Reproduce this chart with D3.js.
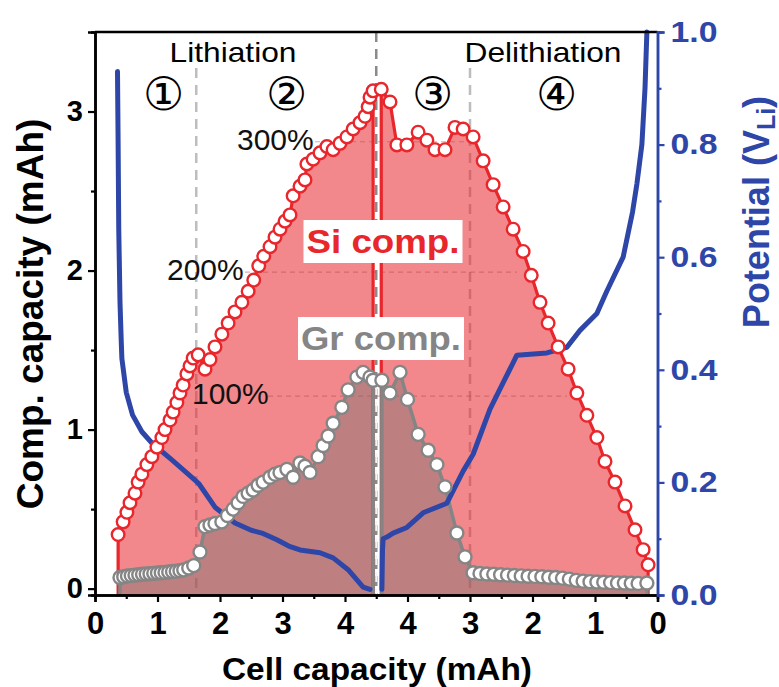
<!DOCTYPE html>
<html>
<head>
<meta charset="utf-8">
<script src="https://cdn.jsdelivr.net/npm/d3@7"></script>
<style>
body { margin: 0; background: #fff; }
svg text { font-family: "Liberation Sans", Arial, Helvetica, sans-serif; }
</style>
</head>
<body>
<script>
'use strict';

// 锂化段（容量 0 -> 4.5）
const liSiCap = [0.37,0.45,0.51,0.56,0.64,0.69,0.75,0.83,0.91,0.99,1.07,1.12,1.20,1.25,1.31,1.36,1.41,1.47,1.52,1.57,1.65,1.76,1.84,1.92,2.03,2.13,2.24,2.35,2.45,2.54,2.62,2.70,2.80,2.88,2.96,3.04,3.12,3.17,3.28,3.36,3.39,3.49,3.60,3.71,3.81,3.92,4.03,4.13,4.24,4.32,4.37,4.40,4.45];
const liSiVal = [0.34,0.42,0.48,0.54,0.60,0.67,0.72,0.78,0.83,0.89,0.95,1.00,1.06,1.11,1.17,1.23,1.28,1.35,1.40,1.45,1.47,1.38,1.44,1.52,1.60,1.67,1.74,1.80,1.87,1.94,2.03,2.09,2.15,2.21,2.26,2.31,2.35,2.47,2.53,2.57,2.67,2.70,2.74,2.78,2.76,2.80,2.84,2.89,2.93,2.97,3.03,3.09,3.13];

const liGrCap = [0.40,0.46,0.52,0.58,0.64,0.70,0.76,0.82,0.88,0.94,1.00,1.06,1.12,1.18,1.24,1.30,1.36,1.42,1.50,1.58,1.68,1.76,1.84,1.92,2.03,2.12,2.21,2.29,2.37,2.45,2.53,2.61,2.69,2.80,2.88,2.96,3.07,3.17,3.28,3.36,3.44,3.57,3.65,3.73,3.81,3.95,4.05,4.19,4.29,4.40,4.45];
const liGrVal = [0.07,0.075,0.08,0.082,0.085,0.087,0.09,0.092,0.094,0.096,0.098,0.10,0.102,0.105,0.108,0.11,0.113,0.118,0.13,0.145,0.23,0.39,0.40,0.41,0.42,0.46,0.50,0.54,0.58,0.60,0.62,0.65,0.67,0.70,0.72,0.73,0.75,0.70,0.79,0.77,0.73,0.83,0.90,0.96,1.04,1.14,1.25,1.33,1.36,1.33,1.31];

const liPotCap = [0.36,0.37,0.38,0.40,0.42,0.43,0.50,0.60,0.75,0.91,1.23,1.60,1.66,1.92,2.24,2.50,2.67,2.91,3.10,3.28,3.60,3.81,4.05,4.29,4.40];
const liPotVal = [0.93,0.80,0.65,0.52,0.45,0.42,0.36,0.32,0.29,0.27,0.24,0.204,0.198,0.156,0.128,0.115,0.11,0.098,0.087,0.08,0.075,0.066,0.045,0.014,0.01];

// 脱锂段（容量 4.5 -> 0）
const deSiCap = [4.42,4.28,4.17,4.01,3.83,3.69,3.56,3.40,3.24,3.11,2.95,2.79,2.63,2.47,2.31,2.15,2.02,1.88,1.75,1.59,1.43,1.29,1.13,0.97,0.84,0.68,0.52,0.36,0.23,0.15];
const deSiVal = [3.14,3.06,2.79,2.79,2.87,2.82,2.76,2.76,2.90,2.89,2.84,2.69,2.54,2.40,2.26,2.12,1.97,1.80,1.67,1.52,1.38,1.23,1.09,0.95,0.80,0.67,0.52,0.37,0.245,0.15];

const deGrCap = [4.41,4.28,4.12,4.00,3.83,3.67,3.53,3.40,3.21,3.08,2.95,2.84,2.73,2.62,2.51,2.40,2.29,2.18,2.07,1.96,1.85,1.74,1.63,1.52,1.41,1.30,1.19,1.08,0.97,0.86,0.75,0.64,0.53,0.42,0.31,0.17];
const deGrVal = [1.31,1.23,1.36,1.19,0.97,0.87,0.78,0.64,0.35,0.20,0.10,0.095,0.092,0.09,0.087,0.085,0.083,0.08,0.078,0.077,0.075,0.072,0.07,0.066,0.06,0.052,0.047,0.044,0.042,0.04,0.038,0.036,0.035,0.034,0.033,0.035];

const dePotCap = [4.41,4.40,4.39,4.33,4.23,4.01,3.75,3.37,3.11,2.95,2.68,2.25,1.77,1.45,1.24,0.97,0.81,0.55,0.40,0.33,0.25,0.20,0.17];
const dePotVal = [0.01,0.08,0.10,0.103,0.11,0.12,0.146,0.163,0.22,0.25,0.33,0.426,0.43,0.44,0.47,0.50,0.54,0.60,0.68,0.73,0.80,0.90,1.00];

// 刻度与注释
const xTickLabels = ['0','1','2','3','4','4','3','2','1','0'];
const pctLabels = ['100%','200%','300%'];
const pctLevels = [1.21, 1.99, 2.81];
const stepLabels = ['①','②','③','④'];

const red = '#e8262c', grey = '#858585', blue = '#2d46a8';

// 横轴用虚拟坐标 0..9：锂化 v = cap，脱锂 v = 9 - cap
const li = (caps, vals) => caps.map((c, i) => [c, vals[i]]);
const de = (caps, vals) => caps.map((c, i) => [9 - c, vals[i]]);

const x = d3.scaleLinear().domain([0, 9]).range([95, 657.5]);
const y = d3.scaleLinear().domain([-0.04, 3.5]).range([595, 32]);
const yV = d3.scaleLinear().domain([0, 1]).range([595, 32]);

const svg = d3.select('body').append('svg')
  .attr('width', 779)
  .attr('height', 687);

// 竖直虚线（在填充下面）
[1.62, 6.0].forEach(v => {
  svg.append('line')
    .attr('x1', x(v)).attr('x2', x(v))
    .attr('y1', 68).attr('y2', 595)
    .attr('stroke', '#bdbdbd').attr('stroke-width', 2.5)
    .attr('stroke-dasharray', '10,7');
});
svg.append('line')
  .attr('x1', x(4.5)).attr('x2', x(4.5))
  .attr('y1', 32).attr('y2', 595)
  .attr('stroke', '#8a8a8a').attr('stroke-width', 2.5)
  .attr('stroke-dasharray', '10,7');

const area = d3.area()
  .x(d => x(d[0]))
  .y0(y(-0.04))
  .y1(d => y(d[1]));

const line = d3.line()
  .x(d => x(d[0]))
  .y(d => y(d[1]));

// 首尾落到横轴
const drop = pts => [[pts[0][0], -0.04], ...pts, [pts[pts.length - 1][0], -0.04]];

const siSets = [li(liSiCap, liSiVal), de(deSiCap, deSiVal)];
const grSets = [li(liGrCap, liGrVal), de(deGrCap, deGrVal)];

siSets.forEach(pts => {
  svg.append('path')
    .attr('d', area(pts))
    .attr('fill', 'rgba(232,38,44,0.55)');
});

// 百分比水平虚线
const pctFrom = [2.77, 2.40, 3.52];
const pctTo = [7.55, 6.75, 6.0];
pctLevels.forEach((lv, i) => {
  svg.append('line')
    .attr('x1', x(pctFrom[i])).attr('x2', x(pctTo[i]))
    .attr('y1', y(lv)).attr('y2', y(lv))
    .attr('stroke', 'rgba(170,70,70,0.45)').attr('stroke-width', 1.2)
    .attr('stroke-dasharray', '5,4');
});

grSets.forEach(pts => {
  svg.append('path')
    .attr('d', area(pts))
    .attr('fill', 'rgba(120,115,115,0.42)');
});

siSets.forEach(pts => {
  svg.append('path')
    .attr('d', line(drop(pts)))
    .attr('fill', 'none')
    .attr('stroke', red).attr('stroke-width', 3.2);
});
grSets.forEach(pts => {
  svg.append('path')
    .attr('d', line(drop(pts)))
    .attr('fill', 'none')
    .attr('stroke', grey).attr('stroke-width', 3.5);
});

// 中线在灰色区域里是白色虚线
svg.append('line')
  .attr('x1', x(4.5)).attr('x2', x(4.5))
  .attr('y1', y(1.28)).attr('y2', 595)
  .attr('stroke', '#f4f4f4').attr('stroke-width', 2)
  .attr('stroke-dasharray', '10,7');

// 电位曲线
const potLine = d3.line()
  .x(d => x(d[0]))
  .y(d => yV(d[1]));
[li(liPotCap, liPotVal), de(dePotCap, dePotVal)].forEach(pts => {
  svg.append('path')
    .attr('d', potLine(pts))
    .attr('fill', 'none')
    .attr('stroke', blue).attr('stroke-width', 5)
    .attr('stroke-linejoin', 'round').attr('stroke-linecap', 'round');
});

// 圆点
siSets.forEach(pts => {
  svg.append('g').selectAll('circle')
    .data(pts)
    .enter()
    .append('circle')
    .attr('cx', d => x(d[0]))
    .attr('cy', d => y(d[1]))
    .attr('r', 6.3)
    .attr('fill', '#fff')
    .attr('stroke', red).attr('stroke-width', 2.4);
});
grSets.forEach(pts => {
  svg.append('g').selectAll('circle')
    .data(pts)
    .enter()
    .append('circle')
    .attr('cx', d => x(d[0]))
    .attr('cy', d => y(d[1]))
    .attr('r', 6.5)
    .attr('fill', '#fff')
    .attr('stroke', grey).attr('stroke-width', 2.4);
});

// 坐标轴
const xAxis = d3.axisBottom(x)
  .tickValues(d3.range(0, 10))
  .tickFormat((d, i) => xTickLabels[i])
  .tickSize(7);
const xMinor = d3.axisBottom(x)
  .tickValues(d3.range(0.5, 9, 1))
  .tickFormat('')
  .tickSize(4);
const yAxis = d3.axisLeft(y).tickValues([0, 1, 2, 3]).tickFormat(d3.format('d')).tickSize(7);
const yMinor = d3.axisLeft(y).tickValues([0.5, 1.5, 2.5]).tickFormat('').tickSize(4);
const vAxis = d3.axisRight(yV).tickValues([0, 0.2, 0.4, 0.6, 0.8, 1.0]).tickFormat(d3.format('.1f')).tickSize(7);
const vMinor = d3.axisRight(yV).tickValues([0.1, 0.3, 0.5, 0.7, 0.9]).tickFormat('').tickSize(4);

function styleAxis(g, color) {
  g.select('.domain').attr('stroke', color).attr('stroke-width', 2.5);
  g.selectAll('.tick line').attr('stroke', color).attr('stroke-width', 2.2);
  g.selectAll('.tick text')
    .attr('fill', color)
    .attr('font-size', 29)
    .attr('font-weight', 'bold')
    .attr('font-family', '"Liberation Sans", Arial, sans-serif');
}

svg.append('line')
  .attr('x1', 95).attr('x2', 657.5)
  .attr('y1', 32).attr('y2', 32)
  .attr('stroke', '#000').attr('stroke-width', 2.5);

const gx = svg.append('g').attr('transform', 'translate(0,595)').call(xAxis);
styleAxis(gx, '#000');
gx.selectAll('.tick text').attr('y', 39).attr('dy', 0).attr('font-size', 31);
styleAxis(svg.append('g').attr('transform', 'translate(0,595)').call(xMinor), '#000');

const gy = svg.append('g').attr('transform', 'translate(95,0)').call(yAxis);
styleAxis(gy, '#000');
gy.selectAll('.tick text').attr('x', -12);
styleAxis(svg.append('g').attr('transform', 'translate(95,0)').call(yMinor), '#000');

const gv = svg.append('g').attr('transform', 'translate(657.5,0)').call(vAxis);
styleAxis(gv, blue);
gv.selectAll('.tick text').attr('x', 13)
  .attr('textLength', 47).attr('lengthAdjust', 'spacingAndGlyphs');
styleAxis(svg.append('g').attr('transform', 'translate(657.5,0)').call(vMinor), blue);

// 轴标题
svg.append('text')
  .attr('x', 377).attr('y', 680)
  .attr('text-anchor', 'middle')
  .attr('font-size', 31).attr('font-weight', 'bold')
  .attr('textLength', 310).attr('lengthAdjust', 'spacingAndGlyphs')
  .text('Cell capacity (mAh)');

svg.append('text')
  .attr('transform', 'translate(43,314) rotate(-90)')
  .attr('text-anchor', 'middle')
  .attr('font-size', 37).attr('font-weight', 'bold')
  .text('Comp. capacity (mAh)');

const vt = svg.append('text')
  .attr('transform', 'translate(769,212) rotate(-90)')
  .attr('text-anchor', 'middle')
  .attr('font-size', 36).attr('font-weight', 'bold')
  .attr('fill', blue);
vt.append('tspan').text('Potential (V');
vt.append('tspan').attr('font-size', 25).attr('dy', 6).text('Li');
vt.append('tspan').attr('dy', -6).text(')');

// 阶段注释
svg.append('text')
  .attr('x', 233).attr('y', 62)
  .attr('text-anchor', 'middle')
  .attr('font-size', 28)
  .attr('textLength', 127).attr('lengthAdjust', 'spacingAndGlyphs')
  .text('Lithiation');
svg.append('text')
  .attr('x', 543).attr('y', 62)
  .attr('text-anchor', 'middle')
  .attr('font-size', 28)
  .attr('textLength', 157).attr('lengthAdjust', 'spacingAndGlyphs')
  .text('Delithiation');

const stepV = [1.09, 3.07, 5.4, 7.38];
stepLabels.forEach((s, i) => {
  svg.append('text')
    .attr('x', x(stepV[i])).attr('y', 94)
    .attr('text-anchor', 'middle')
    .attr('dominant-baseline', 'central')
    .attr('font-size', 46)
    .attr('font-family', '"DejaVu Serif", "DejaVu Sans", serif')
    .text(s);
});

const pctX = [192, 167, 237];
pctLabels.forEach((p, i) => {
  svg.append('text')
    .attr('x', pctX[i]).attr('y', y(pctLevels[i]) + 8)
    .attr('font-size', 30)
    .attr('fill', '#111')
    .text(p);
});

// 白底标签
function boxLabel(text, cx, baseline, color, w) {
  const g = svg.append('g');
  g.append('rect')
    .attr('x', cx - w / 2 - 3).attr('y', baseline - 33)
    .attr('width', w + 6).attr('height', 43)
    .attr('fill', '#fff');
  g.append('text')
    .attr('x', cx).attr('y', baseline)
    .attr('text-anchor', 'middle')
    .attr('font-size', 34).attr('font-weight', 'bold')
    .attr('fill', color)
    .attr('textLength', w).attr('lengthAdjust', 'spacingAndGlyphs')
    .text(text);
}
boxLabel('Si comp.', 383, 253, red, 153);
boxLabel('Gr comp.', 381, 350, grey, 160);
</script>
</body>
</html>
